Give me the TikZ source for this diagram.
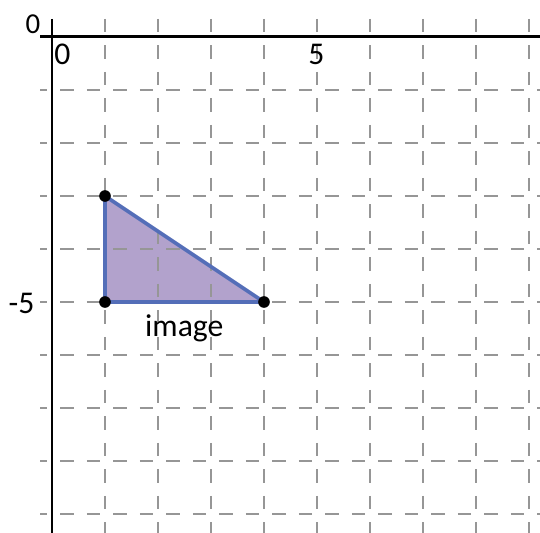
\documentclass[tikz,border=0pt]{standalone}
\usepackage{fontspec}
\setmainfont{Carlito}
\definecolor{gridgray}{RGB}{150,150,150}
\definecolor{trifill}{RGB}{128,100,170}
\definecolor{triedge}{RGB}{84,110,184}
\begin{document}
\begin{tikzpicture}[x=1cm,y=1cm,
  gridline/.style={gridgray, line width=1.5pt, dash pattern=on 0.25cm off 0.25cm},
  axisline/.style={black, line width=1.6pt},
  dot/.style={circle, fill=black, inner sep=0pt, minimum size=0.22cm},
  tick/.style={font=\fontsize{17}{19}\selectfont, inner sep=0pt, anchor=base},
  lbl/.style={font=\fontsize{17}{19}\selectfont, inner sep=0pt, anchor=base}]
\useasboundingbox[fill=white] (-0.981,0.698) rectangle (9.208,-9.358);
% triangle fill
\coordinate (A) at (1,-3);
\coordinate (B) at (1,-5);
\coordinate (C) at (4,-5);
\fill[trifill, fill opacity=0.6] (A) -- (B) -- (C) -- cycle;
% grid
\foreach \i in {1,...,9} {
  \draw[gridline] (\i,0.34) -- (\i,-9.36);
  \draw[gridline, dash phase=0.114cm] (-0.226,-\i) -- (9.21,-\i);
}
% triangle outline
\draw[triedge, line width=2pt, line join=round] (A) -- (B) -- (C) -- cycle;
% axes
\draw[axisline] (-0.226,0) -- (9.21,0);
\draw[axisline] (0,0.34) -- (0,-9.36);
% dots
\node[dot] (pA) at (A) {};
\node[dot] (pB) at (B) {};
\node[dot] (pC) at (C) {};
% labels
\node[tick, font=\fontsize{15.5}{17}\selectfont] (t0a) at (-0.358,0.057) {0};
\node[tick] (t0b) at (0.198,-0.51) {0};
\node[tick] (t5) at (4.99,-0.515) {5};
\node[tick] (tm5) at (-0.575,-5.226) {-5};
\node[lbl] (img) at (2.496,-5.66) {image};
\end{tikzpicture}
\end{document}
